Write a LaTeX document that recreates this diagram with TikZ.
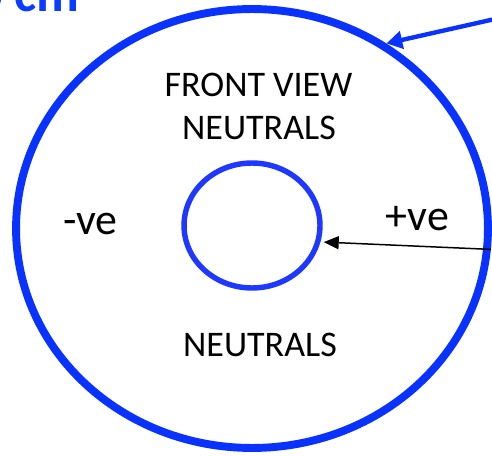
\documentclass[tikz,border=0pt]{standalone}
\usepackage{fontspec}
\setmainfont{Carlito}
\usepackage{tikz}
\usetikzlibrary{arrows.meta,shapes.geometric}
\definecolor{ring}{HTML}{0A32FF}
\definecolor{core}{HTML}{1F38FF}
\definecolor{scaleblue}{HTML}{0A3CFF}

\begin{document}
\begin{tikzpicture}[x=0.02cm, y=-0.02cm,
  zone/.style={font=\fontsize{20.5}{24}\selectfont, anchor=base, inner sep=0pt},
  sign/.style={font=\fontsize{25}{30}\selectfont, anchor=base, inner sep=0pt},
  tagarrow/.style={draw=ring, line width=2.5pt, -{Triangle[length=9pt, width=10pt]}},
  fieldarrow/.style={draw=black, line width=0.85pt, -{Triangle[length=8.5pt, width=7.4pt]}}
]
  \useasboundingbox (0,0) rectangle (492,455);

  % Rings
  \node[ellipse, draw=ring, line width=4.5pt, minimum width=9.44cm, minimum height=8.78cm, inner sep=0pt, outer sep=0.08cm] (outer) at (252,228.5) {};
  \node[ellipse, draw=core, line width=3.1pt, minimum width=2.72cm, minimum height=2.5cm, inner sep=0pt, outer sep=0.12cm] (inner) at (252,225.5) {};

  % Labels
  \node[font=\fontsize{30}{34}\selectfont\bfseries, text=scaleblue, anchor=base east, inner sep=0pt] (scale) at (80,12) {0 cm};
  \node[zone] (front) at (258.5,97) {FRONT VIEW};
  \node[zone] (neutop) at (259,140) {NEUTRALS};
  \node[zone] (neubot) at (260,356) {NEUTRALS};
  \node[sign] (neg) at (90.5,235) {-ve};
  \node[sign] (pos) at (417.5,231) {+ve};

  % Arrows
  \coordinate (tagfrom) at (495,19);
  \draw[tagarrow] (tagfrom) -- (outer.54);
  \draw[fieldarrow] (outer.-5) -- (inner.-13);
\end{tikzpicture}
\end{document}
